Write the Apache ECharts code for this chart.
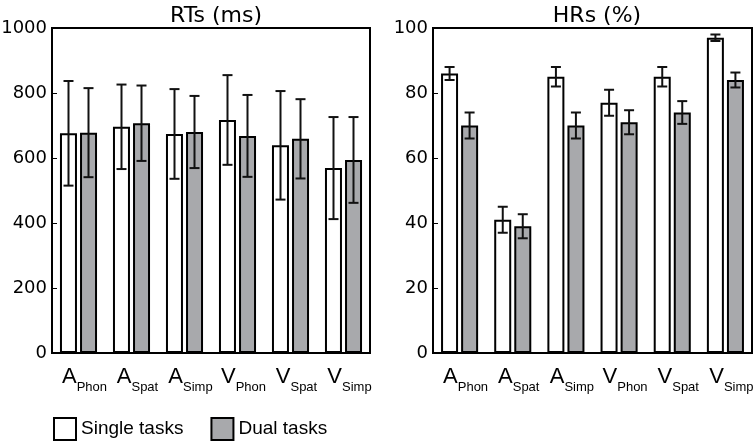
<!DOCTYPE html>
<html>
<head>
<meta charset="utf-8">
<script src="https://cdn.jsdelivr.net/npm/echarts@6/dist/echarts.min.js"></script>
<style>
html, body { margin: 0; padding: 0; background: #fff; }
#chart { width: 755px; height: 445px; }
</style>
</head>
<body>
<div id="chart"></div>
<script>
// categories: main letter + subscript
const catMain = ['A', 'A', 'A', 'V', 'V', 'V']
const catSub = ['Phon', 'Spat', 'Simp', 'Phon', 'Spat', 'Simp']

// reaction times (ms)
const rtSingle = [676, 696, 674, 717, 639, 569]
const rtSingleErr = [161, 130, 138, 138, 167, 157]
const rtDual = [678, 707, 680, 668, 659, 594]
const rtDualErr = [137, 116, 111, 126, 122, 132]

// hit rates (%)
const hrSingle = [86, 41, 85, 77, 85, 97]
const hrSingleErr = [2, 4, 3, 4, 3, 1]
const hrDual = [70, 39, 70, 71, 74, 84]
const hrDualErr = [4, 3.7, 4, 3.7, 3.5, 2.3]

const FONT = 'DejaVu Sans'
const SANS = 'Liberation Sans'
const GREY = '#a8a9ac'
const BAR_W = 17
const BAR_OFF = 10   // half distance between the two bar centres

let charts = echarts.init(document.getElementById('chart'))

function errSeries(name, vals, errs, axisIdx, off) {
    return {
        name: name,
        type: 'custom',
        xAxisIndex: axisIdx,
        yAxisIndex: axisIdx,
        z: 10,
        silent: true,
        data: vals.map((v, i) => [i, v, errs[i]]),
        renderItem: function (params, api) {
            let hi = api.coord([api.value(0), api.value(1) + api.value(2)])
            let lo = api.coord([api.value(0), api.value(1) - api.value(2)])
            let cx = hi[0] + off
            let st = { stroke: '#111', lineWidth: 2 }
            return {
                type: 'group',
                children: [
                    { type: 'line', shape: { x1: cx, y1: hi[1], x2: cx, y2: lo[1] }, style: st },
                    { type: 'line', shape: { x1: cx - 5, y1: hi[1], x2: cx + 5, y2: hi[1] }, style: st },
                    { type: 'line', shape: { x1: cx - 5, y1: lo[1], x2: cx + 5, y2: lo[1] }, style: st }
                ]
            }
        }
    }
}

function barSeries(name, vals, axisIdx, color) {
    return {
        name: name,
        type: 'bar',
        xAxisIndex: axisIdx,
        yAxisIndex: axisIdx,
        barWidth: BAR_W,
        barGap: '18%',
        data: vals,
        itemStyle: { color: color, borderColor: '#000', borderWidth: 2 }
    }
}

function xAxis(idx) {
    return {
        type: 'category',
        gridIndex: idx,
        data: catMain.map((m, i) => m + '|' + catSub[i]),
        axisLine: { show: true, lineStyle: { color: '#000', width: 2 } },
        axisTick: { show: false },
        axisLabel: {
            margin: 13,
            interval: 0,
            formatter: v => {
                let p = v.split('|')
                return '{a|' + p[0] + '}{s|' + p[1] + '}'
            },
            rich: {
                a: { fontFamily: SANS, fontSize: 22, color: '#000', lineHeight: 22, padding: [0, 0, 0, 12], verticalAlign: 'top' },
                s: { fontFamily: SANS, fontSize: 13, color: '#000', lineHeight: 12, padding: [15, 0, 0, 0], verticalAlign: 'top' }
            }
        }
    }
}

function yAxis(idx, max, step) {
    return {
        type: 'value',
        gridIndex: idx,
        min: 0,
        max: max,
        interval: step,
        splitLine: { show: false },
        axisLine: { show: true, lineStyle: { color: '#000', width: 2 } },
        axisTick: { show: true, inside: true, length: 5, lineStyle: { color: '#000', width: 1 } },
        axisLabel: { fontFamily: FONT, fontSize: 18, color: '#000', margin: 5, formatter: v => String(v) }
    }
}

let config = {
    animation: false,
    textStyle: { fontFamily: FONT },
    title: [
        { text: 'RTs (ms)', left: 211, top: 0, textAlign: 'center',
          textStyle: { fontFamily: FONT, fontSize: 22, fontWeight: 'normal', color: '#000' } },
        { text: 'HRs (%)', left: 592, top: 0, textAlign: 'center',
          textStyle: { fontFamily: FONT, fontSize: 22, fontWeight: 'normal', color: '#000' } }
    ],
    legend: {
        left: 48,
        top: 412,
        itemWidth: 22,
        itemHeight: 22,
        itemGap: 27,
        icon: 'rect',
        data: ['Single tasks', 'Dual tasks'],
        textStyle: { fontFamily: SANS, fontSize: 19, color: '#000' }
    },
    grid: [
        { left: 52, top: 28, width: 318, height: 325, show: true, borderColor: '#000', borderWidth: 2, outerBoundsMode: 'none' },
        { left: 433, top: 28, width: 319, height: 325, show: true, borderColor: '#000', borderWidth: 2, outerBoundsMode: 'none' }
    ],
    xAxis: [xAxis(0), xAxis(1)],
    yAxis: [yAxis(0, 1000, 200), yAxis(1, 100, 20)],
    series: [
        barSeries('Single tasks', rtSingle, 0, '#fff'),
        barSeries('Dual tasks', rtDual, 0, GREY),
        barSeries('Single tasks', hrSingle, 1, '#fff'),
        barSeries('Dual tasks', hrDual, 1, GREY),
        errSeries('Single tasks', rtSingle, rtSingleErr, 0, -BAR_OFF),
        errSeries('Dual tasks', rtDual, rtDualErr, 0, BAR_OFF),
        errSeries('Single tasks', hrSingle, hrSingleErr, 1, -BAR_OFF),
        errSeries('Dual tasks', hrDual, hrDualErr, 1, BAR_OFF)
    ]
}
config && charts.setOption(config)
window.addEventListener('resize', () => charts.resize())
</script>
</body>
</html>
